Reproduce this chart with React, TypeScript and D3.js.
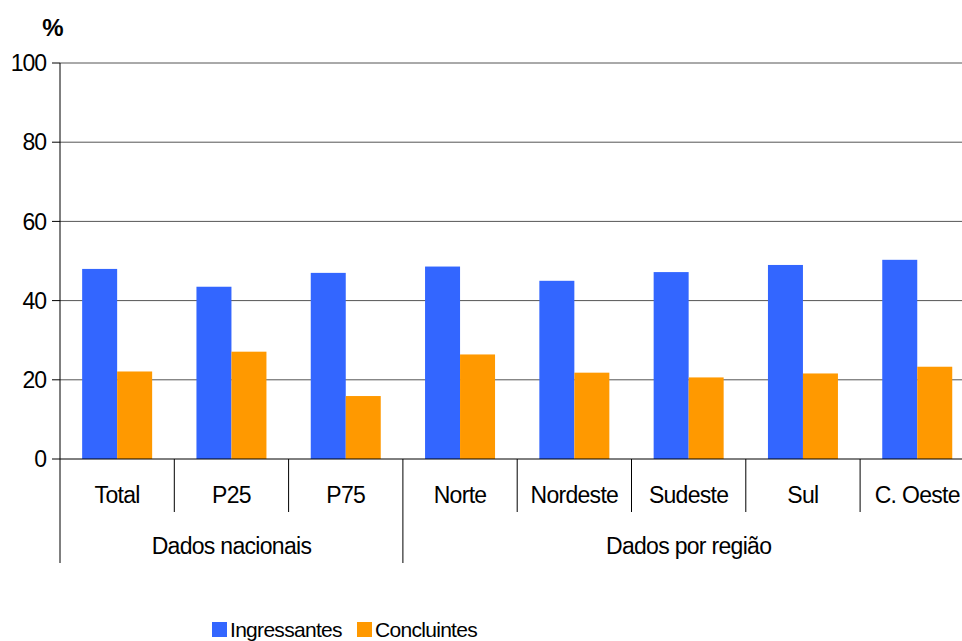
import React from "react";
import * as d3 from "d3";

// Percentages per category, for entering and graduating students
const categories = ["Total", "P25", "P75", "Norte", "Nordeste", "Sudeste", "Sul", "C. Oeste"];
const ingressantes = [48.0, 43.5, 47.0, 48.6, 45.0, 47.2, 49.0, 50.3];
const concluintes = [22.1, 27.1, 15.9, 26.4, 21.8, 20.6, 21.6, 23.3];
const seriesNames = ["Ingressantes", "Concluintes"];
const seriesColors = ["#3366FF", "#FF9900"];
const groups = [
  { label: "Dados nacionais", from: 0, to: 3 },
  { label: "Dados por região", from: 3, to: 8 },
];
const yTicks = [0, 20, 40, 60, 80, 100];

const W = 962;
const H = 641;
const left = 60;
const right = 974.4;
const top = 63;
const base = 459;
const font = "'Liberation Sans', Arial, sans-serif";

export default function App() {
  const x0 = d3.scaleBand<string>().domain(categories).range([left, right]).padding(0);
  const x1 = d3
    .scaleBand<string>()
    .domain(seriesNames)
    .range([0, x0.bandwidth()])
    .paddingInner(0)
    .paddingOuter(0.633);
  const y = d3.scaleLinear().domain([0, 100]).range([base, top]);
  const values = [ingressantes, concluintes];
  const step = x0.step();

  return (
    <svg
      width={W}
      height={H}
      style={{ position: "fixed", left: 0, top: 0, background: "#fff" }}
      fontFamily={font}
    >
      <text x={53} y={36} fontSize={24} fontWeight="bold" textAnchor="middle">
        %
      </text>

      {/* horizontal gridlines and y ticks */}
      {yTicks.map((t) => (
        <g key={t}>
          {t > 0 && (
            <line x1={left} x2={W} y1={y(t)} y2={y(t)} stroke="#555" strokeWidth={1} />
          )}
          <line x1={52} x2={left} y1={y(t)} y2={y(t)} stroke="#000" strokeWidth={1} />
          <text
            x={46}
            y={y(t)}
            dy="0.36em"
            fontSize={23}
            letterSpacing={-1}
            textAnchor="end"
          >
            {t}
          </text>
        </g>
      ))}

      {/* bars */}
      {categories.map((c, i) => (
        <g key={c} transform={`translate(${x0(c)},0)`}>
          {seriesNames.map((s, k) => (
            <rect
              key={s}
              x={x1(s)}
              y={y(values[k][i])}
              width={x1.bandwidth()}
              height={base - y(values[k][i])}
              fill={seriesColors[k]}
            />
          ))}
        </g>
      ))}

      {/* axes */}
      <line x1={left} x2={W} y1={base} y2={base} stroke="#000" strokeWidth={1} />
      <line x1={left} x2={left} y1={top} y2={563} stroke="#000" strokeWidth={1} />

      {/* category separators and labels */}
      {categories.map((c, i) => {
        const isGroupEdge = groups.some((g) => g.from === i);
        return (
          <g key={c}>
            {i > 0 && (
              <line
                x1={left + i * step}
                x2={left + i * step}
                y1={base}
                y2={isGroupEdge ? 563 : 512}
                stroke="#000"
                strokeWidth={1}
              />
            )}
            <text
              x={(x0(c) ?? 0) + step / 2}
              y={503}
              fontSize={23}
              letterSpacing={-0.7}
              textAnchor="middle"
            >
              {c}
            </text>
          </g>
        );
      })}

      {groups.map((g) => (
        <text
          key={g.label}
          x={left + ((g.from + g.to) / 2) * step}
          y={554}
          fontSize={23}
          letterSpacing={-0.7}
          textAnchor="middle"
        >
          {g.label}
        </text>
      ))}

      {/* legend */}
      <g>
        {seriesNames.map((s, k) => {
          const lx = k === 0 ? 212 : 357;
          return (
            <g key={s}>
              <rect x={lx} y={622} width={15} height={15} fill={seriesColors[k]} />
              <text x={lx + 18} y={637} fontSize={21} letterSpacing={-0.7}>
                {s}
              </text>
            </g>
          );
        })}
      </g>
    </svg>
  );
}
